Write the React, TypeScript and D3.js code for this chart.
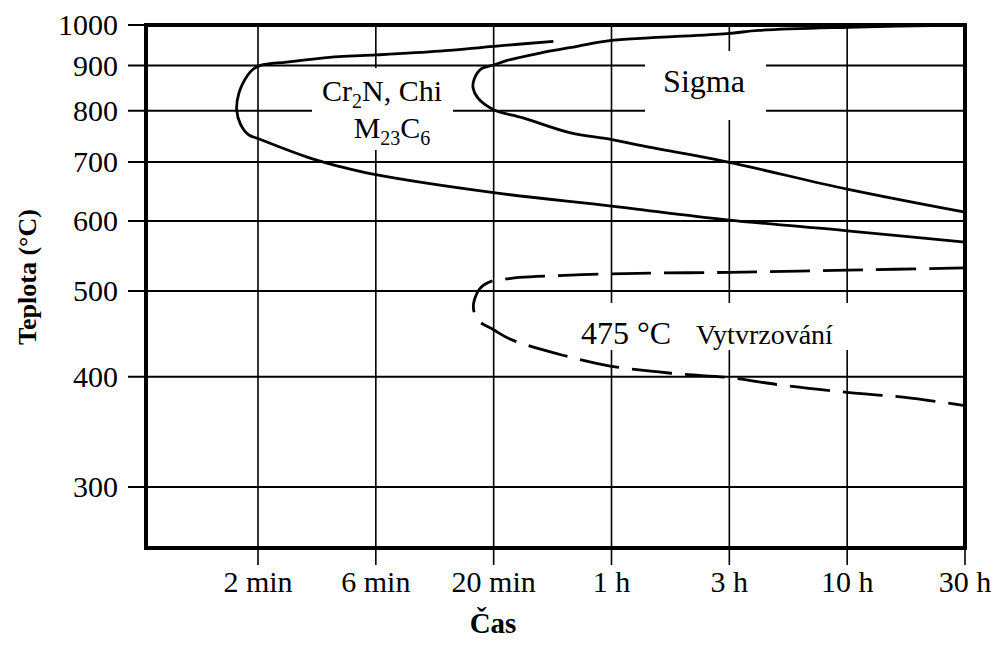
import React, { useLayoutEffect, useRef } from 'react';
import * as d3 from 'd3';

// Time axis (minutes) and its labels
const timeTicks = [2, 6, 20, 60, 180, 600, 1800];
const timeLabels = ['2 min', '6 min', '20 min', '1 h', '3 h', '10 h', '30 h'];

// Temperature axis (°C)
const tempTicks = [1000, 900, 800, 700, 600, 500, 400, 300];
const tempMin = 256;
const tempMax = 1000;

// Curves: [time in minutes, temperature °C]
const carbideCurve: [number, number][] = [
  [34.9, 958], [20, 946], [11.5, 934], [6, 925], [4.25, 921], [2.61, 908], [2.05, 900],
  [1.9, 890], [1.81, 876], [1.675, 838], [1.64, 801], [1.7, 772], [1.835, 751], [2, 744],
  [2.6, 723], [3.3, 706], [4.25, 692], [6, 677], [20, 646], [60, 624], [176, 602],
  [600, 585], [1800, 568],
];

const sigmaCurve: [number, number][] = [
  [1800, 1000], [600, 994], [243, 986], [176, 978], [59, 960], [43.6, 946], [30.5, 929],
  [22.7, 912], [20, 901], [17.6, 892], [16.4, 869], [16.2, 849], [17.0, 827], [20, 802],
  [26.3, 785], [41, 755], [59, 743], [75.6, 732], [176, 700], [600, 652], [1800, 614],
];

const embrittlementCurve: [number, number][] = [
  [1800, 531], [600, 528], [180, 525], [60, 523], [25.4, 518], [22.4, 516], [20, 514],
  [17.6, 505], [16.4, 488], [16.3, 476], [17.1, 463], [20, 452], [23.4, 441], [38.1, 423],
  [60, 411], [111, 403], [180, 399], [314, 391], [600, 384], [1029, 379], [1800, 371],
];

const FONT = '"Liberation Serif", "Times New Roman", serif';
const DASH_ON = 40;
const DASH_OFF = 13;

export default function App() {
  const W = 994;
  const H = 652;
  const left = 146;
  const right = 965;
  const top = 25;
  const bottom = 548;
  const firstTickX = 258;
  const step = (right - firstTickX) / (timeTicks.length - 1);

  const x = d3
    .scaleLog()
    .domain(timeTicks)
    .range(timeTicks.map((_, i) => firstTickX + i * step));
  const y = d3.scaleLog().domain([tempMin, tempMax]).range([bottom, top]);

  const line = d3
    .line<[number, number]>()
    .x((d) => x(d[0]))
    .y((d) => y(d[1]))
    .curve(d3.curveCatmullRom.alpha(0.5));

  const dashRef = useRef<SVGPathElement | null>(null);

  useLayoutEffect(() => {
    const p = dashRef.current;
    if (!p) return;
    const total = p.getTotalLength();
    let best = 0;
    let bestX = Infinity;
    for (let s = 0; s <= total; s += 0.5) {
      const pt = p.getPointAtLength(s);
      if (pt.x < bestX) {
        bestX = pt.x;
        best = s;
      }
    }
    const period = DASH_ON + DASH_OFF;
    // the dash round the nose ends a few pixels past its leftmost point
    const off = (((DASH_ON - 6 - best) % period) + period) % period;
    p.setAttribute('stroke-dashoffset', String(off));
  }, []);

  return (
    <svg
      width={W}
      height={H}
      style={{ position: 'absolute', left: 0, top: 0, background: '#fff' }}
      fontFamily={FONT}
    >
      <rect x={0} y={0} width={W} height={H} fill="#fff" />

      {/* horizontal grid + left ticks */}
      {tempTicks.map((t) => (
        <g key={'h' + t}>
          <line x1={left - 18} x2={right} y1={y(t)} y2={y(t)} stroke="#000" strokeWidth={2} />
          <text x={118} y={y(t)} dy="0.34em" textAnchor="end" fontSize={30} fill="#000">
            {t}
          </text>
        </g>
      ))}

      {/* vertical grid + bottom ticks */}
      {timeTicks.map((m, i) => (
        <g key={'v' + m}>
          <line x1={x(m)} x2={x(m)} y1={top} y2={bottom + 17} stroke="#000" strokeWidth={1.6} />
          <text x={x(m)} y={592} textAnchor="middle" fontSize={30} fill="#000">
            {timeLabels[i]}
          </text>
        </g>
      ))}

      {/* white label backgrounds */}
      <rect x={312} y={68} width={141} height={82} fill="#fff" />
      <rect x={645} y={51} width={121} height={69} fill="#fff" />
      <rect x={555} y={303} width={315} height={47} fill="#fff" />

      {/* annotations */}
      <text x={382} y={101} textAnchor="middle" fontSize={30} fill="#000">
        Cr<tspan fontSize={20} dy={7}>2</tspan>
        <tspan dy={-7}>N, Chi</tspan>
      </text>
      <text x={392} y={138} textAnchor="middle" fontSize={30} fill="#000">
        M<tspan fontSize={20} dy={7}>23</tspan>
        <tspan dy={-7}>C</tspan>
        <tspan fontSize={20} dy={7}>6</tspan>
      </text>
      <text x={704} y={92} textAnchor="middle" fontSize={32} fill="#000">
        Sigma
      </text>
      <text x={581} y={344} fontSize={32} fill="#000">
        475 °C
      </text>
      <text x={696} y={344} fontSize={28} fill="#000">
        Vytvrzování
      </text>

      {/* curves */}
      <path d={line(carbideCurve) || ''} fill="none" stroke="#000" strokeWidth={2.8} strokeLinejoin="round" />
      <path d={line(sigmaCurve) || ''} fill="none" stroke="#000" strokeWidth={2.8} strokeLinejoin="round" />
      <path
        ref={dashRef}
        d={line(embrittlementCurve) || ''}
        fill="none"
        stroke="#000"
        strokeWidth={2.8}
        strokeDasharray={`${DASH_ON} ${DASH_OFF}`}
      />

      {/* frame */}
      <rect
        x={left}
        y={top}
        width={right - left}
        height={bottom - top}
        fill="none"
        stroke="#000"
        strokeWidth={4}
      />

      {/* axis titles */}
      <text
        transform={`translate(27, 277) rotate(-90)`}
        textAnchor="middle"
        dominantBaseline="central"
        fontSize={26}
        fontWeight="bold"
        fill="#000"
      >
        Teplota (°C)
      </text>
      <text x={493} y={633} textAnchor="middle" fontSize={29} fontWeight="bold" fill="#000">
        Čas
      </text>
    </svg>
  );
}
